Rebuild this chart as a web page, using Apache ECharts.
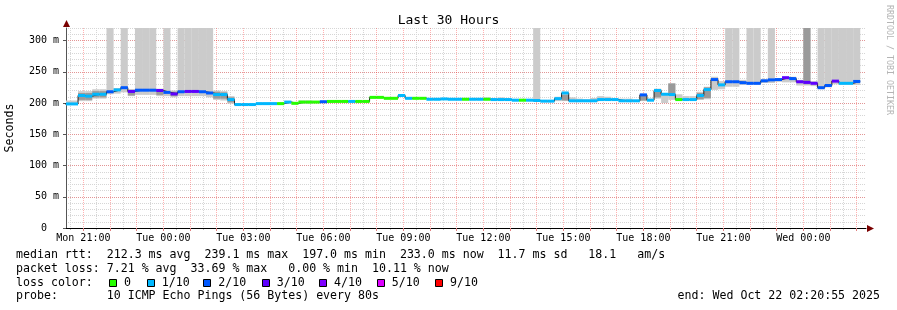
<!DOCTYPE html>
<html>
<head>
<meta charset="utf-8">
<title>Last 30 Hours</title>
<script src="https://cdn.jsdelivr.net/npm/echarts@6/dist/echarts.min.js"></script>
<style>
  html, body { margin: 0; padding: 0; background: #fff; }
  #main { width: 897px; height: 310px; }
</style>
</head>
<body>
<div id="main"></div>
<script>
// x values are hours since Mon 00:00
const xMin = 20 + 20 / 60 + 55 / 3600;   // Mon 20:20:55
const xMax = xMin + 30;                  // Wed 02:20:55
const stepStart = 20 + 16 / 60;          // first 16 min RRA step
const stepLen = 16 / 60;

// median rtt per step (ms)
const median = [
  198.5, 198.5, 212, 211, 214, 214, 218, 221, 224.5, 218.5,
  220.5, 220.5, 220.5, 220, 217, 214.5, 218, 218.5, 218.5, 218,
  216, 213.5, 213.5, 205.5, 197.5, 197.5, 197.5, 199, 199, 199,
  199, 201.5, 199.5, 201.5, 201.5, 201.5, 202, 202.5, 202.5, 202.5,
  202.5, 202.5, 202.5, 209, 209, 207.5, 207.5, 212, 207.5, 207.5,
  207.5, 206, 206, 206.5, 206, 206, 206, 206, 206, 206,
  205.5, 205.5, 205.5, 204.5, 204.5, 204.5, 204, 203, 203, 207,
  216, 203.5, 203.5, 203.5, 203.5, 205.5, 205.5, 205.5, 203.5, 203.5,
  203.5, 213, 204.5, 220, 214, 213.5, 205.5, 205.5, 205.5, 212,
  221.5, 237.5, 229, 234, 234, 232.5, 231.5, 231.5, 235.5, 237,
  237.5, 240.5, 239, 234, 233, 231.5, 224.5, 228, 235, 231.5,
  231.5, 234.5
];
// lost pings (of 10) per step
const loss = [
  1, 1, 1, 1, 1, 1, 2, 1, 2, 3,
  2, 2, 2, 3, 2, 3, 2, 3, 3, 2,
  2, 1, 1, 1, 1, 1, 1, 1, 1, 1,
  0, 1, 0, 0, 0, 0, 2, 0, 0, 0,
  1, 0, 0, 0, 0, 0, 0, 1, 1, 0,
  0, 1, 1, 1, 1, 1, 0, 1, 1, 0,
  1, 1, 1, 1, 0, 1, 1, 1, 1, 1,
  1, 1, 1, 1, 1, 1, 1, 1, 1, 1,
  1, 2, 1, 1, 1, 1, 0, 1, 1, 1,
  1, 2, 1, 2, 2, 2, 2, 2, 2, 2,
  2, 3, 2, 3, 3, 3, 2, 2, 3, 1,
  1, 2
];
// outer smoke (min .. max ping), 320 = off the top
const smokeLo = [
  197, 197, 203, 203, 207, 207, 214, 215, 217, 211,
  213, 213, 213, 211, 211, 209, 211, 211, 211, 211,
  209, 205, 204, 199, 196, 196, 196, 197, 197, 197,
  198, 199, 198, 199, 199, 200, 200, 201, 201, 201,
  201, 201, 201, 207.5, 207.5, 206, 206, 210, 206, 206,
  206, 204.5, 204.5, 205, 204.5, 204.5, 204.5, 204.5, 204.5, 204.5,
  204, 204, 204, 203, 203, 203, 202.5, 201.5, 201.5, 203,
  203, 202, 202, 202, 202, 204, 204, 204, 202, 202,
  202, 203, 203, 207, 200, 205, 204, 204, 204, 205,
  206, 221, 222, 226, 226, 229, 229, 229, 232, 232,
  234, 233, 233, 228, 228, 227, 222, 225, 230, 229,
  229, 229
];
const smokeHi = [
  204, 204, 219, 219, 222, 222, 320, 224, 320, 222,
  320, 320, 320, 223, 320, 220, 320, 320, 320, 320,
  320, 220, 219, 211, 199, 199, 199, 200.5, 200.5, 200.5,
  201, 203, 201, 204, 204, 203, 204, 204, 204, 204,
  204, 204, 204, 210.5, 210.5, 209, 209, 214, 209, 209,
  209, 207.5, 207.5, 208, 208, 208, 208, 207.5, 207.5, 209,
  207.5, 209, 207, 206, 206, 206, 320, 204.5, 204.5, 210,
  218, 209, 207, 206, 208, 211, 210, 207, 207, 207,
  205, 214, 207, 223, 215, 232, 214, 211, 211, 218,
  226, 242, 235, 320, 320, 237, 320, 320, 238, 320,
  240, 242, 242, 237, 320, 235, 320, 320, 320, 320,
  320, 320
];
// darker inner smoke, null where none shows
const darkLo = [
  null, null, 205, 205, 209, 209, null, null, null, 212,
  null, null, null, 213, null, 211, null, null, null, null,
  null, 207, 207, 201, null, null, null, null, null, null,
  null, null, null, null, null, null, null, null, null, null,
  null, null, null, null, null, null, null, null, null, null,
  null, null, null, null, null, null, null, null, null, null,
  null, null, null, null, null, null, null, null, null, null,
  204, null, null, null, null, null, null, null, null, null,
  null, 204, null, 209, null, 213, null, null, null, 206,
  208, null, null, null, null, null, null, null, null, null,
  null, null, null, null, 230, null, null, null, null, null,
  null, null
];
const darkHi = [
  null, null, 216, 216, 219, 219, null, null, null, 221,
  null, null, null, 222, null, 218, null, null, null, null,
  null, 218, 217, 209, null, null, null, null, null, null,
  null, null, null, null, null, null, null, null, null, null,
  null, null, null, null, null, null, null, null, null, null,
  null, null, null, null, null, null, null, null, null, null,
  null, null, null, null, null, null, null, null, null, null,
  213, null, null, null, null, null, null, null, null, null,
  null, 212, null, 222, null, 231, null, null, null, 216,
  225, null, null, null, null, null, null, null, null, null,
  null, null, null, null, 320, null, null, null, null, null,
  null, null
];

const hourTicks = [21, 22, 23, 24, 25, 26, 27, 28, 29, 30, 31, 32, 33, 34, 35,
  36, 37, 38, 39, 40, 41, 42, 43, 44, 45, 46, 47, 48, 49, 50];
const halfHourTicks = [20.5, 21.5, 22.5, 23.5, 24.5, 25.5, 26.5, 27.5, 28.5, 29.5,
  30.5, 31.5, 32.5, 33.5, 34.5, 35.5, 36.5, 37.5, 38.5, 39.5, 40.5, 41.5, 42.5,
  43.5, 44.5, 45.5, 46.5, 47.5, 48.5, 49.5];
const labelHours = [21, 24, 27, 30, 33, 36, 39, 42, 45, 48];
const tickLabels = ['Mon 21:00', 'Tue 00:00', 'Tue 03:00', 'Tue 06:00', 'Tue 09:00',
  'Tue 12:00', 'Tue 15:00', 'Tue 18:00', 'Tue 21:00', 'Wed 00:00'];

const lossLevels = [0, 1, 2, 3, 4, 5, 9];
const lossLabels = ['0', '1/10', '2/10', '3/10', '4/10', '5/10', '9/10'];
const lossColors = ['#26ff00', '#00b8ff', '#0059ff', '#5e00ff', '#7e00ff', '#dd00ff', '#ff0000'];

const mono = '"DejaVu Sans Mono", "Liberation Mono", monospace';

function lossColor(n) {
  let c = lossColors[0];
  lossLevels.forEach((lv, i) => { if (n >= lv) c = lossColors[i]; });
  return c;
}

// [start, end, lo, hi]
const smokeData = median.map((m, k) => {
  const t = stepStart + k * stepLen;
  return [t, t + stepLen, smokeLo[k], smokeHi[k]];
});
const darkData = [];
median.forEach((m, k) => {
  if (darkLo[k] == null) return;
  const t = stepStart + k * stepLen;
  darkData.push([t, t + stepLen, darkLo[k], darkHi[k]]);
});
const barData = median.map((m, k) => {
  const t = stepStart + k * stepLen;
  return [t, t + stepLen, m, loss[k]];
});
const lineData = median.map((m, k) => [stepStart + k * stepLen, m]);
lineData.push([stepStart + median.length * stepLen, median[median.length - 1]]);

function clipToGrid(rect, params) {
  const cs = params.coordSys;
  return echarts.graphic.clipRectByRect(rect, { x: cs.x, y: cs.y, width: cs.width, height: cs.height });
}

function bandItem(color) {
  return function (params, api) {
    const a = api.coord([api.value(0), api.value(3)]);
    const b = api.coord([api.value(1), api.value(2)]);
    const shape = clipToGrid({ x: a[0], y: a[1], width: b[0] - a[0], height: b[1] - a[1] }, params);
    return shape && { type: 'rect', shape: shape, style: { fill: color } };
  };
}

function medianItem(params, api) {
  const a = api.coord([api.value(0), api.value(2)]);
  const b = api.coord([api.value(1), api.value(2)]);
  const shape = clipToGrid({ x: a[0], y: a[1] - 1.5, width: b[0] - a[0], height: 3 }, params);
  return shape && { type: 'rect', shape: shape, style: { fill: lossColor(api.value(3)) } };
}

const gridRed = 'rgba(255, 0, 0, 0.3)';
const gridGrey = '#d6d6d6';

// text block under the chart
const textLines = [
  'median rtt:  212.3 ms avg  239.1 ms max  197.0 ms min  233.0 ms now  11.7 ms sd   18.1   am/s',
  'packet loss: 7.21 % avg  33.69 % max   0.00 % min  10.11 % now',
  'loss color:',
  'probe:       10 ICMP Echo Pings (56 Bytes) every 80s'
];
const lineY = [255, 268.5, 282.5, 296];
const swatchX = [109, 146.7, 203.3, 261.7, 319, 376.7, 435];

const graphics = [];
textLines.forEach((s, i) => {
  graphics.push({ type: 'text', x: 16, y: lineY[i],
    style: { text: s, font: '11.6px ' + mono, fill: '#000', verticalAlign: 'middle' } });
});
lossLabels.forEach((s, i) => {
  graphics.push({ type: 'rect', shape: { x: Math.round(swatchX[i]) + 0.5, y: 279.5, width: 7, height: 7 },
    style: { fill: lossColors[i], stroke: '#000', lineWidth: 1 } });
  graphics.push({ type: 'text', x: swatchX[i] + 15, y: lineY[2],
    style: { text: s, font: '11.6px ' + mono, fill: '#000', verticalAlign: 'middle' } });
});
graphics.push({ type: 'text', x: 880, y: lineY[3],
  style: { text: 'end: Wed Oct 22 02:20:55 2025', font: '11.6px ' + mono, fill: '#000',
    align: 'right', verticalAlign: 'middle' } });
graphics.push({ type: 'text', x: 889, y: 60, rotation: -Math.PI / 2,
  style: { text: 'RRDTOOL / TOBI OETIKER', font: '8.3px ' + mono, fill: '#b4b4b4',
    align: 'center', verticalAlign: 'middle' } });
// axis arrows
graphics.push({ type: 'polygon', shape: { points: [[63, 27], [70, 27], [66.5, 20]] },
  style: { fill: '#7a0000' } });
graphics.push({ type: 'polygon', shape: { points: [[867, 225], [867, 232], [874, 228.5]] },
  style: { fill: '#7a0000' } });

const chart = echarts.init(document.getElementById('main'), null, { renderer: 'canvas' });

const option = {
  animation: false,
  backgroundColor: '#fff',
  title: {
    text: 'Last 30 Hours', left: 'center', top: 9,
    textStyle: { fontFamily: mono, fontSize: 13, fontWeight: 'normal', color: '#000' }
  },
  grid: { left: 66, right: 31, top: 28, bottom: 82, outerBoundsMode: 'none', containLabel: false },
  xAxis: [
    {
      type: 'value', min: xMin, max: xMax, position: 'bottom', z: 0,
      axisLine: { show: false },
      axisTick: { show: true, customValues: halfHourTicks, length: 2, lineStyle: { color: '#bbb' } },
      axisLabel: { show: false },
      splitLine: { show: true, lineStyle: { color: gridGrey, type: [1, 1], width: 1 } }
    },
    {
      type: 'value', min: xMin, max: xMax, position: 'bottom', z: 1,
      axisLine: { show: true, onZero: false, lineStyle: { color: '#000', width: 1 } },
      axisTick: { show: true, customValues: hourTicks, length: 3, lineStyle: { color: '#e08080' } },
      axisLabel: {
        customValues: labelHours,
        formatter: v => tickLabels[labelHours.indexOf(v)],
        fontFamily: mono, fontSize: 10, color: '#000', margin: 5
      },
      splitLine: { show: true, lineStyle: { color: gridRed, type: [1, 1], width: 1 } }
    }
  ],
  yAxis: [
    {
      type: 'value', min: 0, max: 320, interval: 10, position: 'left', z: 0,
      axisLine: { show: false },
      axisTick: { show: false },
      axisLabel: { show: false },
      splitLine: { show: true, showMinLine: false, lineStyle: { color: gridGrey, type: [1, 1], width: 1 } }
    },
    {
      type: 'value', min: 0, max: 320, interval: 50, position: 'left', z: 1,
      name: 'Seconds', nameLocation: 'middle', nameGap: 50,
      nameTextStyle: { fontFamily: mono, fontSize: 11.6, color: '#000' },
      axisLine: { show: true, onZero: false, lineStyle: { color: '#555', width: 1 } },
      axisTick: { show: true, length: 3, lineStyle: { color: '#555' } },
      axisLabel: {
        showMaxLabel: false,
        formatter: v => (v === 0 ? '0  ' : v + ' m'),
        fontFamily: mono, fontSize: 10, color: '#000', margin: 7
      },
      splitLine: { show: true, showMinLine: false, showMaxLine: false,
        lineStyle: { color: gridRed, type: [1, 1], width: 1 } }
    }
  ],
  series: [
    {
      name: 'smoke', type: 'custom', xAxisIndex: 1, yAxisIndex: 1, z: 2,
      renderItem: bandItem('#cbcbcb'), encode: { x: [0, 1], y: [2, 3] }, data: smokeData
    },
    {
      name: 'smoke dark', type: 'custom', xAxisIndex: 1, yAxisIndex: 1, z: 3,
      renderItem: bandItem('#9a9a9a'), encode: { x: [0, 1], y: [2, 3] }, data: darkData
    },
    {
      name: 'median', type: 'line', xAxisIndex: 1, yAxisIndex: 1, z: 4,
      step: 'end', symbol: 'none', data: lineData,
      lineStyle: { color: '#202020', width: 1 }
    },
    {
      name: 'loss', type: 'custom', xAxisIndex: 1, yAxisIndex: 1, z: 5,
      renderItem: medianItem, encode: { x: [0, 1], y: 2 }, data: barData
    }
  ],
  graphic: graphics
};

option && chart.setOption(option);
</script>
</body>
</html>
